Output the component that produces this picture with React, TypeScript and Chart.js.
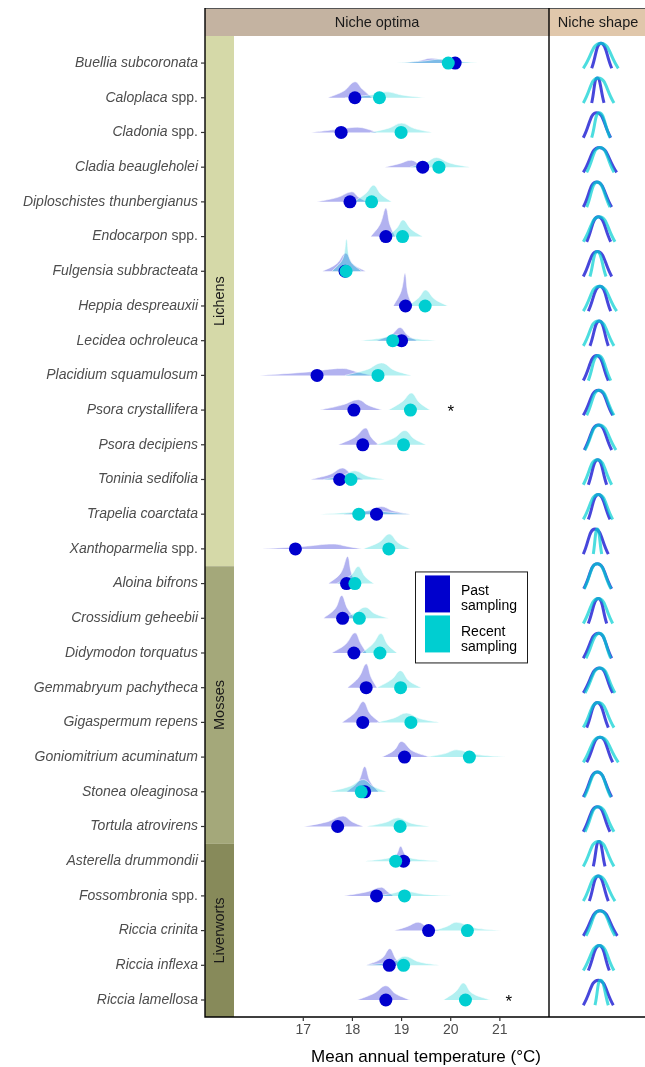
import React, { useEffect, useRef } from 'react';
import { Chart, registerables } from 'chart.js';

Chart.register(...registerables);

// ---------------- data ----------------
const species = [
  'Buellia subcoronata', 'Caloplaca spp.', 'Cladonia spp.', 'Cladia beaugleholei',
  'Diploschistes thunbergianus', 'Endocarpon spp.', 'Fulgensia subbracteata', 'Heppia despreauxii',
  'Lecidea ochroleuca', 'Placidium squamulosum', 'Psora crystallifera', 'Psora decipiens',
  'Toninia sedifolia', 'Trapelia coarctata', 'Xanthoparmelia spp.', 'Aloina bifrons',
  'Crossidium geheebii', 'Didymodon torquatus', 'Gemmabryum pachytheca', 'Gigaspermum repens',
  'Goniomitrium acuminatum', 'Stonea oleaginosa', 'Tortula atrovirens', 'Asterella drummondii',
  'Fossombronia spp.', 'Riccia crinita', 'Riccia inflexa', 'Riccia lamellosa',
];

const groups = ['Lichens', 'Mosses', 'Liverworts'];
const groupFirstRow = [1, 16, 24];
const groupLastRow = [15, 23, 28];

const xTicks = [17, 18, 19, 20, 21];

const pastOptima = [20.09, 18.05, 17.77, 19.43, 17.95, 18.68, 17.85, 19.08, 19.0, 17.28, 18.03, 18.21, 17.74, 18.49, 16.84,
  17.88, 17.8, 18.03, 18.28, 18.21, 19.06, 18.25, 17.7, 19.04, 18.49, 19.55, 18.75, 18.68];
const recentOptima = [19.95, 18.55, 18.99, 19.76, 18.39, 19.02, 17.87, 19.48, 18.82, 18.52, 19.18, 19.04, 17.97, 18.13, 18.74,
  18.05, 18.14, 18.56, 18.98, 19.19, 20.38, 18.18, 18.97, 18.88, 19.06, 20.34, 19.04, 20.3];

// density profiles: [start, leftShoulder, peak, rightShoulder, end, hLeft, hPeak, hRight] (height in rows)
const pastDensity = [
  [19.0, 19.36, 19.6, 19.92, 20.4, 0.07, 0.14, 0.07],
  [17.5, 17.83, 18.05, 18.2, 18.4, 0.2, 0.46, 0.25],
  [17.16, 17.7, 18.1, 18.3, 18.5, 0.09, 0.15, 0.1],
  [18.66, 18.95, 19.2, 19.35, 19.58, 0.1, 0.2, 0.1],
  [17.27, 17.7, 17.99, 18.12, 18.29, 0.13, 0.29, 0.14],
  [18.37, 18.56, 18.68, 18.76, 18.87, 0.35, 0.82, 0.35],
  [17.39, 17.68, 17.86, 18.02, 18.27, 0.22, 0.52, 0.2],
  [18.83, 18.99, 19.07, 19.13, 19.23, 0.42, 0.94, 0.35],
  [18.49, 18.8, 18.97, 19.12, 19.31, 0.18, 0.38, 0.16],
  [16.1, 17.1, 17.8, 18.1, 18.4, 0.1, 0.2, 0.1],
  [17.34, 17.8, 18.12, 18.32, 18.6, 0.15, 0.3, 0.14],
  [17.71, 18.05, 18.27, 18.38, 18.53, 0.22, 0.48, 0.22],
  [17.15, 17.55, 17.8, 17.98, 18.22, 0.15, 0.33, 0.15],
  [17.81, 18.3, 18.59, 18.82, 19.18, 0.1, 0.22, 0.1],
  [16.16, 17.0, 17.61, 17.9, 18.19, 0.07, 0.14, 0.07],
  [17.51, 17.76, 17.9, 17.97, 18.05, 0.3, 0.78, 0.35],
  [17.41, 17.65, 17.78, 17.9, 18.05, 0.28, 0.66, 0.28],
  [17.58, 17.86, 18.05, 18.17, 18.29, 0.25, 0.58, 0.27],
  [17.9, 18.13, 18.28, 18.38, 18.5, 0.3, 0.69, 0.3],
  [17.79, 18.05, 18.22, 18.36, 18.56, 0.28, 0.6, 0.25],
  [18.6, 18.85, 19.0, 19.22, 19.58, 0.2, 0.45, 0.18],
  [17.88, 18.12, 18.25, 18.36, 18.53, 0.3, 0.73, 0.3],
  [17.01, 17.5, 17.81, 18.0, 18.22, 0.14, 0.3, 0.13],
  [18.76, 18.9, 18.98, 19.07, 19.2, 0.2, 0.43, 0.2],
  [17.83, 18.3, 18.59, 18.7, 18.83, 0.12, 0.25, 0.14],
  [18.85, 19.12, 19.34, 19.52, 19.78, 0.12, 0.24, 0.11],
  [18.28, 18.6, 18.76, 18.87, 18.97, 0.2, 0.48, 0.22],
  [18.1, 18.45, 18.68, 18.88, 19.17, 0.2, 0.41, 0.18],
];
const recentDensity = [
  [18.9, 19.45, 19.85, 20.13, 20.55, 0.06, 0.12, 0.06],
  [17.85, 18.4, 18.7, 19.0, 19.48, 0.09, 0.17, 0.08],
  [18.36, 18.75, 19.0, 19.25, 19.62, 0.13, 0.27, 0.12],
  [19.17, 19.5, 19.71, 19.98, 20.39, 0.14, 0.28, 0.12],
  [18.02, 18.27, 18.43, 18.58, 18.8, 0.24, 0.48, 0.22],
  [18.7, 18.9, 19.03, 19.19, 19.43, 0.24, 0.48, 0.22],
  [17.58, 17.8, 17.88, 17.96, 18.19, 0.35, 0.92, 0.3],
  [19.13, 19.35, 19.49, 19.67, 19.94, 0.24, 0.46, 0.2],
  [18.15, 18.6, 18.9, 19.22, 19.7, 0.08, 0.17, 0.07],
  [17.85, 18.3, 18.6, 18.85, 19.2, 0.17, 0.36, 0.15],
  [18.73, 19.02, 19.2, 19.36, 19.58, 0.25, 0.49, 0.22],
  [18.49, 18.85, 19.07, 19.25, 19.5, 0.2, 0.41, 0.18],
  [17.41, 17.8, 18.05, 18.3, 18.66, 0.12, 0.25, 0.1],
  [17.34, 17.9, 18.42, 18.8, 19.18, 0.05, 0.1, 0.05],
  [18.22, 18.55, 18.75, 18.93, 19.18, 0.2, 0.43, 0.18],
  [17.68, 17.97, 18.12, 18.26, 18.44, 0.24, 0.49, 0.2],
  [17.75, 18.05, 18.26, 18.46, 18.74, 0.15, 0.32, 0.13],
  [18.19, 18.42, 18.58, 18.72, 18.91, 0.27, 0.56, 0.24],
  [18.5, 18.8, 18.98, 19.15, 19.4, 0.24, 0.49, 0.2],
  [18.5, 18.85, 19.1, 19.37, 19.77, 0.13, 0.27, 0.11],
  [19.51, 19.88, 20.12, 20.5, 21.12, 0.1, 0.21, 0.08],
  [17.53, 17.95, 18.22, 18.43, 18.7, 0.16, 0.35, 0.15],
  [18.29, 18.68, 18.93, 19.18, 19.57, 0.12, 0.25, 0.1],
  [18.26, 18.65, 18.97, 19.3, 19.77, 0.07, 0.15, 0.06],
  [18.5, 18.8, 19.04, 19.45, 20.02, 0.07, 0.14, 0.05],
  [19.65, 19.92, 20.12, 20.48, 21.03, 0.12, 0.24, 0.08],
  [18.28, 18.85, 19.07, 19.35, 19.77, 0.12, 0.26, 0.1],
  [19.85, 20.1, 20.26, 20.43, 20.8, 0.24, 0.49, 0.2],
];

// niche shape curves: [leftEnd, apex, rightEnd] in shape-panel units
const pastShape = [
  [-5.3, 4, 14.7], [-5.3, 0.3, 7], [-13.7, -0.3, 13.7], [-13.7, 2.3, 19.7], [-13.7, -0.3, 14.7],
  [-10.3, 1.3, 13.7], [-13.7, 0.3, 14.7], [-8.7, 3, 13.7], [-7, 2.3, 11.3], [-13.7, -0.3, 11.3],
  [-13.7, 1.3, 15.7], [-12.7, 1.3, 14.7], [-8.7, 0.7, 9.7], [-8.7, 1.3, 13], [-13.7, -2, 11.3],
  [-13.3, 0.3, 14.7], [-8.7, 1.3, 9.7], [-13.7, 1.3, 14.7], [-13.7, 2.3, 15.7], [-10.3, 0.3, 11.3],
  [-10.3, 3, 15.7], [-13.7, 0.3, 14.7], [-13.7, 0.3, 13], [-3.7, 2, 8], [-7.7, 1.3, 11.3],
  [-13.7, 3, 20.3], [-8.7, 2.3, 12.3], [-13.7, 1.3, 16.3],
];
const recentShape = [
  [-13.7, 3.8, 21.3], [-13.7, 1.3, 17], [-5.3, 2.3, 13], [-10.3, 3, 17], [-10.3, 0.3, 13],
  [-13.7, 2.3, 18], [-7, 0.3, 9], [-13.7, 2.3, 19.7], [-13.7, 1.3, 17], [-8.7, 1.3, 13.7],
  [-10.3, 2.3, 17], [-12, 2.3, 19], [-13.7, 0.3, 14.7], [-13.7, 1.3, 15.7], [-3.7, 0.3, 4.7],
  [-12.7, 0.3, 14], [-13.7, 1.3, 15.7], [-11, 2.3, 13.7], [-12, 3, 18], [-13.7, 1.3, 17],
  [-13.7, 3, 21.3], [-12.7, 0.7, 13.7], [-12, 1.3, 17], [-13.7, 1.3, 17], [-13.7, 1.3, 18],
  [-11, 3, 18], [-13.7, 2.3, 17], [-2, 3.7, 11.3],
];

const starRows = [11, 28];
const starX = [20.0, 21.18];

// ---------------- styling / layout constants ----------------
const X_MIN = 15;
const X_MAX = 22;
const STRIP_END = 15.59;
const Y_TOP = 0.22;
const Y_BOTTOM = 28.49;
const SHAPE_TOP = 0.57;
const SHAPE_BOTTOM = 0.15;
const HEADER_TOP = 8;
const FONT = "'Liberation Sans', Arial, sans-serif";

const PAST_COLOR = '#0000CD';
const RECENT_COLOR = '#00CED1';
const PAST_FILL = 'rgba(0,0,205,0.3)';
const RECENT_FILL = 'rgba(0,206,209,0.3)';
const groupColors = ['#D5D9A8', '#A4A87A', '#878A5A'];

function densityPoints(d: number[], row: number) {
  return [
    { x: d[0], y: row },
    { x: d[1], y: row - d[5] },
    { x: d[2], y: row - d[6] },
    { x: d[3], y: row - d[7] },
    { x: d[4], y: row },
  ];
}

function shapePoints(s: number[], row: number) {
  return [
    { x: s[0], y: row + SHAPE_BOTTOM },
    { x: s[1], y: row - SHAPE_TOP },
    { x: s[2], y: row + SHAPE_BOTTOM },
  ];
}

const decorPlugin = {
  id: 'decor',
  beforeDatasetsDraw(chart: any) {
    const { ctx, chartArea, scales } = chart;
    const xs = scales.x;
    const ys = scales.y;
    ctx.save();
    groups.forEach((g, i) => {
      const top = i === 0 ? chartArea.top : ys.getPixelForValue(groupFirstRow[i] - 0.5);
      const bottom = i === groups.length - 1 ? chartArea.bottom : ys.getPixelForValue(groupLastRow[i] + 0.5);
      const left = xs.getPixelForValue(X_MIN);
      const right = xs.getPixelForValue(STRIP_END);
      ctx.fillStyle = groupColors[i];
      ctx.fillRect(left, top, right - left, bottom - top);
      ctx.save();
      ctx.translate((left + right) / 2, (top + bottom) / 2);
      ctx.rotate(-Math.PI / 2);
      ctx.fillStyle = '#1a1a1a';
      ctx.font = `14.5px ${FONT}`;
      ctx.textAlign = 'center';
      ctx.textBaseline = 'middle';
      ctx.fillText(g, 0, 1);
      ctx.restore();
    });
    ctx.restore();
  },
  afterDatasetsDraw(chart: any) {
    const { ctx, chartArea, scales } = chart;
    const xs = scales.x;
    const ys = scales.y;
    ctx.save();
    // asterisks
    ctx.fillStyle = '#000';
    ctx.font = `17px ${FONT}`;
    ctx.textAlign = 'center';
    ctx.textBaseline = 'middle';
    starRows.forEach((r, i) => {
      ctx.fillText('*', xs.getPixelForValue(starX[i]), ys.getPixelForValue(r) + 2);
    });
    // legend
    const lx = chartArea.left + 210;
    const ly = ys.getPixelForValue(15.65);
    ctx.fillStyle = '#fff';
    ctx.fillRect(lx, ly, 112, 91);
    ctx.strokeStyle = '#1a1a1a';
    ctx.lineWidth = 1;
    ctx.strokeRect(lx + 0.5, ly + 0.5, 112, 91);
    ctx.fillStyle = PAST_COLOR;
    ctx.fillRect(lx + 10, ly + 4, 25, 37);
    ctx.fillStyle = RECENT_COLOR;
    ctx.fillRect(lx + 10, ly + 44, 25, 37);
    ctx.fillStyle = '#000';
    ctx.font = `14px ${FONT}`;
    ctx.textAlign = 'left';
    ctx.textBaseline = 'middle';
    ctx.fillText('Past', lx + 46, ly + 20);
    ctx.fillText('sampling', lx + 46, ly + 35);
    ctx.fillText('Recent', lx + 46, ly + 61);
    ctx.fillText('sampling', lx + 46, ly + 76);
    ctx.restore();
  },
  afterDraw(chart: any) {
    const { ctx, chartArea, scales, width } = chart;
    const xs = scales.x;
    const ys = scales.y;
    const L = chartArea.left;
    const R = chartArea.right;
    const T = chartArea.top;
    const B = chartArea.bottom;
    ctx.save();
    // headers
    ctx.fillStyle = '#C4B3A1';
    ctx.fillRect(L, HEADER_TOP, R - L, T - HEADER_TOP);
    ctx.fillStyle = '#E0C7AB';
    ctx.fillRect(R, HEADER_TOP, width - R, T - HEADER_TOP);
    ctx.fillStyle = '#1a1a1a';
    ctx.font = `14.5px ${FONT}`;
    ctx.textAlign = 'center';
    ctx.textBaseline = 'middle';
    ctx.fillText('Niche optima', (L + R) / 2, (HEADER_TOP + T) / 2 + 1);
    ctx.fillText('Niche shape', (R + width) / 2 + 1, (HEADER_TOP + T) / 2 + 1);
    // header top edge
    ctx.strokeStyle = '#555';
    ctx.lineWidth = 1;
    ctx.beginPath();
    ctx.moveTo(L, HEADER_TOP + 0.5);
    ctx.lineTo(width, HEADER_TOP + 0.5);
    ctx.stroke();
    // frame lines
    ctx.strokeStyle = '#000';
    ctx.lineWidth = 1.4;
    ctx.beginPath();
    ctx.moveTo(L, HEADER_TOP);
    ctx.lineTo(L, B);
    ctx.lineTo(width, B);
    ctx.moveTo(R, HEADER_TOP);
    ctx.lineTo(R, B);
    ctx.stroke();
    // y ticks + labels
    ctx.strokeStyle = '#333';
    ctx.lineWidth = 1.2;
    species.forEach((name, i) => {
      const y = ys.getPixelForValue(i + 1);
      ctx.beginPath();
      ctx.moveTo(L - 4, y);
      ctx.lineTo(L, y);
      ctx.stroke();
      ctx.fillStyle = '#4D4D4D';
      ctx.textAlign = 'right';
      ctx.textBaseline = 'middle';
      let italicPart = name;
      let xr = L - 7;
      if (name.endsWith(' spp.')) {
        italicPart = name.slice(0, -5);
        ctx.font = `14px ${FONT}`;
        ctx.fillText(' spp.', xr, y);
        xr -= ctx.measureText(' spp.').width;
      }
      ctx.font = `italic 14px ${FONT}`;
      ctx.fillText(italicPart, xr, y);
    });
    // x ticks + labels
    xTicks.forEach((t) => {
      const x = xs.getPixelForValue(t);
      ctx.beginPath();
      ctx.moveTo(x, B);
      ctx.lineTo(x, B + 4);
      ctx.stroke();
      ctx.fillStyle = '#4D4D4D';
      ctx.font = `14px ${FONT}`;
      ctx.textAlign = 'center';
      ctx.textBaseline = 'middle';
      ctx.fillText(String(t), x, B + 13);
    });
    // x title
    ctx.fillStyle = '#000';
    ctx.font = `17px ${FONT}`;
    ctx.textAlign = 'center';
    ctx.textBaseline = 'middle';
    ctx.fillText('Mean annual temperature (°C)', (L + width) / 2 + 1, B + 40);
    ctx.restore();
  },
};

export default function App() {
  const mainRef = useRef<HTMLCanvasElement | null>(null);
  const shapeRef = useRef<HTMLCanvasElement | null>(null);

  useEffect(() => {
    if (!mainRef.current || !shapeRef.current) return;

    const datasets: any[] = [];
    species.forEach((_, i) => {
      const row = i + 1;
      datasets.push({
        type: 'line',
        data: densityPoints(pastDensity[i], row),
        backgroundColor: PAST_FILL,
        borderColor: 'rgba(255,255,255,0.7)',
        borderWidth: 0.8,
        pointRadius: 0,
        tension: 0.4,
        fill: { value: row },
        order: 4,
      });
      datasets.push({
        type: 'line',
        data: densityPoints(recentDensity[i], row),
        backgroundColor: RECENT_FILL,
        borderColor: 'rgba(255,255,255,0.7)',
        borderWidth: 0.8,
        pointRadius: 0,
        tension: 0.4,
        fill: { value: row },
        order: 3,
      });
    });
    datasets.push({
      type: 'line',
      data: pastOptima.map((v, i) => ({ x: v, y: i + 1 })),
      showLine: false,
      pointRadius: 6.5,
      pointBorderWidth: 0,
      pointBackgroundColor: PAST_COLOR,
      borderColor: PAST_COLOR,
      order: 2,
    });
    datasets.push({
      type: 'line',
      data: recentOptima.map((v, i) => ({ x: v, y: i + 1 })),
      showLine: false,
      pointRadius: 6.5,
      pointBorderWidth: 0,
      pointBackgroundColor: RECENT_COLOR,
      borderColor: RECENT_COLOR,
      order: 1,
    });

    const main = new Chart(mainRef.current, {
      type: 'line',
      data: { datasets },
      options: {
        responsive: false,
        animation: false,
        devicePixelRatio: 1,
        events: [],
        layout: { padding: { left: 205, right: 96, top: 36, bottom: 50 } },
        scales: {
          x: { type: 'linear', min: X_MIN, max: X_MAX, display: false },
          y: { type: 'linear', min: Y_TOP, max: Y_BOTTOM, reverse: true, display: false },
        },
        plugins: { legend: { display: false }, tooltip: { enabled: false } },
      },
      plugins: [decorPlugin],
    } as any);

    const shapeSets: any[] = [];
    species.forEach((_, i) => {
      const row = i + 1;
      shapeSets.push({
        type: 'line',
        data: shapePoints(pastShape[i], row),
        borderColor: 'rgba(0,0,205,0.72)',
        borderWidth: 3,
        pointRadius: 0,
        tension: 0.5,
        fill: false,
        order: 2,
      });
      shapeSets.push({
        type: 'line',
        data: shapePoints(recentShape[i], row),
        borderColor: 'rgba(0,206,209,0.7)',
        borderWidth: 3,
        pointRadius: 0,
        tension: 0.5,
        fill: false,
        order: 1,
      });
    });

    const shape = new Chart(shapeRef.current, {
      type: 'line',
      data: { datasets: shapeSets },
      options: {
        responsive: false,
        animation: false,
        devicePixelRatio: 1,
        events: [],
        layout: { padding: { left: 0, right: 0, top: 36, bottom: 50 } },
        scales: {
          x: { type: 'linear', min: -48, max: 48, display: false },
          y: { type: 'linear', min: Y_TOP, max: Y_BOTTOM, reverse: true, display: false },
        },
        plugins: { legend: { display: false }, tooltip: { enabled: false } },
      },
    } as any);

    return () => {
      main.destroy();
      shape.destroy();
    };
  }, []);

  return (
    <div style={{ position: 'fixed', left: 0, top: 0, width: 645, height: 1067, background: '#fff', overflow: 'hidden' }}>
      <canvas ref={mainRef} width={645} height={1067} style={{ position: 'absolute', left: 0, top: 0, width: 645, height: 1067 }} />
      <canvas ref={shapeRef} width={96} height={1067} style={{ position: 'absolute', left: 549, top: 0, width: 96, height: 1067 }} />
    </div>
  );
}
